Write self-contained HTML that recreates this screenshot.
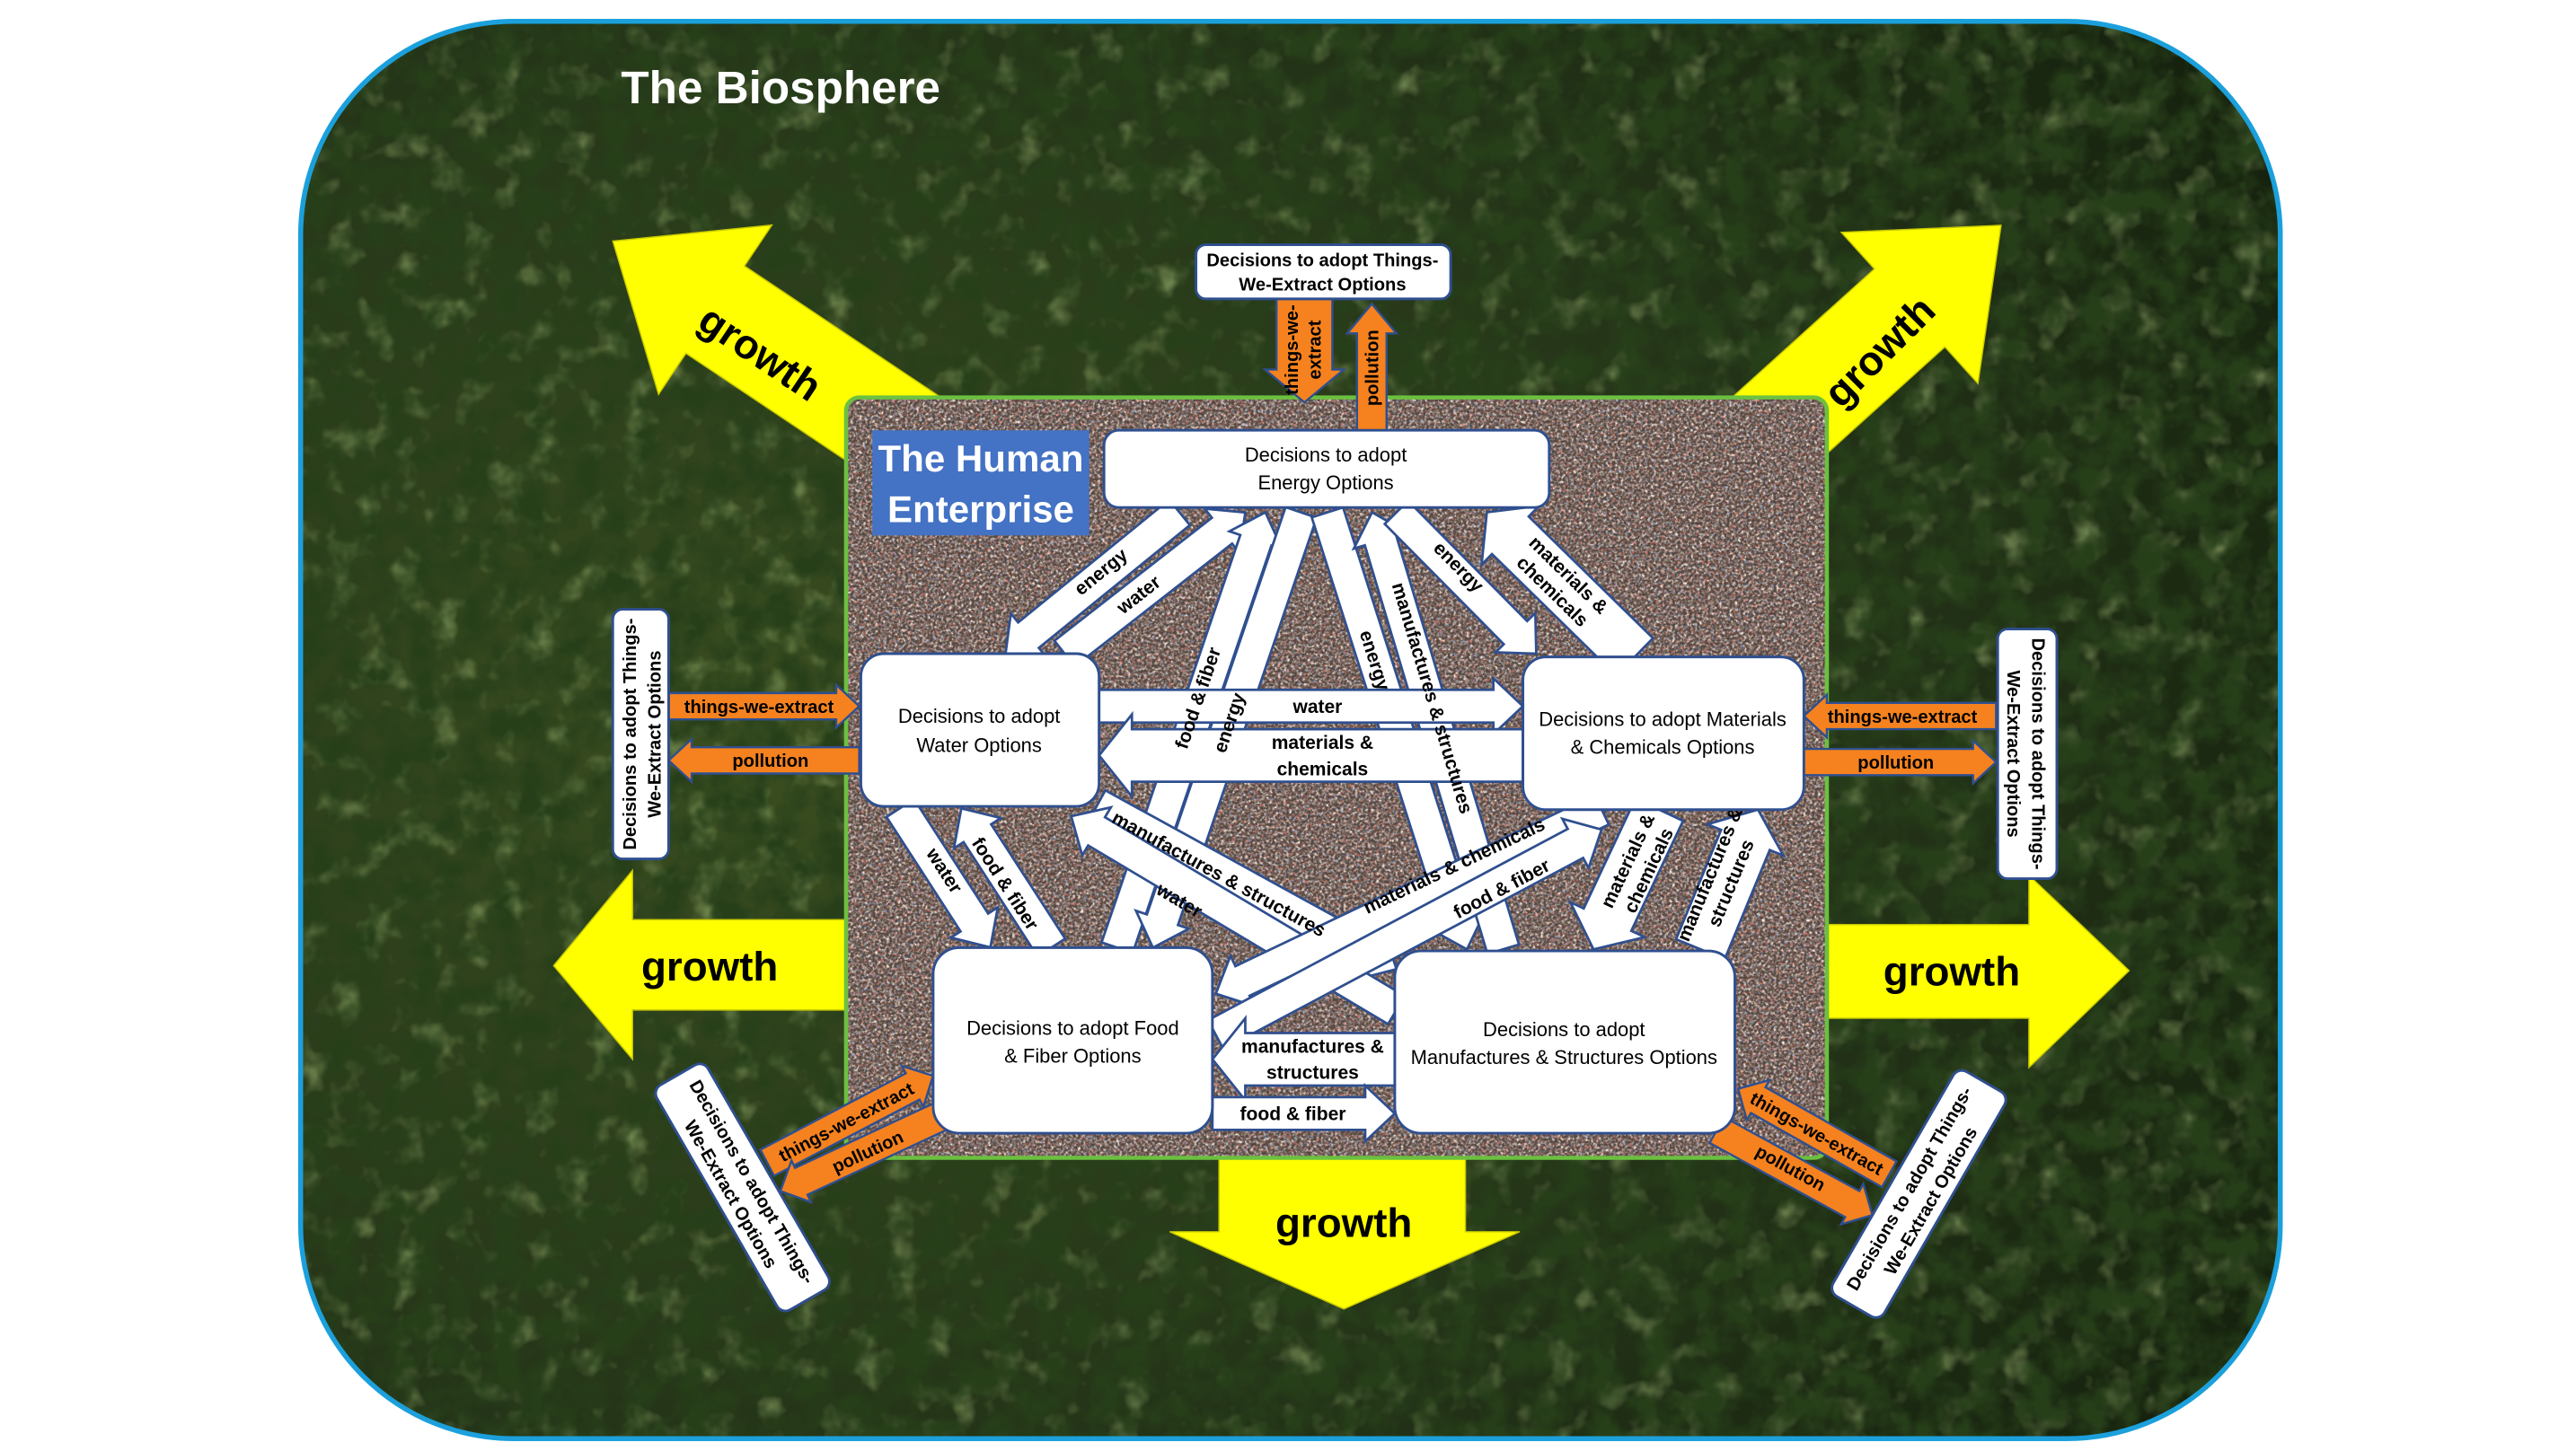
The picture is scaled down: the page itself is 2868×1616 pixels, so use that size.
<!DOCTYPE html>
<html><head><meta charset="utf-8"><style>
html,body{margin:0;padding:0;background:#fff;}
svg{display:block;}
.bx{fill:#fff;stroke:#2f4f8f;stroke-width:1.6;}
.bt{font-family:"Liberation Sans",sans-serif;font-size:12px;fill:#000;text-anchor:middle;}
.al{font-family:"Liberation Sans",sans-serif;font-size:11.5px;font-weight:bold;fill:#000;text-anchor:middle;}
.wa{fill:#fff;stroke:#2f4f8f;stroke-width:1.5;}
.oa{fill:#f5821f;stroke:#2f4f8f;stroke-width:1.3;}
.ya{fill:#ffff00;stroke:#c8c800;stroke-width:0.8;}
.gt{font-family:"Liberation Sans",sans-serif;font-size:25px;font-weight:bold;fill:#000;text-anchor:middle;}
.xt{font-family:"Liberation Sans",sans-serif;font-size:11px;font-weight:bold;fill:#000;text-anchor:middle;}
</style></head><body>
<svg width="2868" height="1616" viewBox="0 0 1568 883.5" preserveAspectRatio="none" xmlns="http://www.w3.org/2000/svg">
<defs>
<filter id="dk" x="0" y="0" width="100%" height="100%"><feTurbulence type="fractalNoise" baseFrequency="0.06" numOctaves="3" seed="4"/><feColorMatrix type="matrix" values="0 0 0 0 0.02  0 0 0 0 0.05  0 0 0 0 0.01  2.6 0 0 0 -0.85"/></filter>
<filter id="lt" x="0" y="0" width="100%" height="100%"><feTurbulence type="fractalNoise" baseFrequency="0.05" numOctaves="3" seed="9"/><feColorMatrix type="matrix" values="0 0 0 0 0.3  0 0 0 0 0.42  0 0 0 0 0.15  1.8 0 0 0 -0.95"/></filter>
<filter id="cd" x="0" y="0" width="100%" height="100%"><feTurbulence type="fractalNoise" baseFrequency="0.6" numOctaves="2" seed="2"/><feColorMatrix type="matrix" values="0 0 0 0 0.08  0 0 0 0 0.06  0 0 0 0 0.05  2.8 0 0 0 -0.95"/></filter>
<filter id="cl" x="0" y="0" width="100%" height="100%"><feTurbulence type="fractalNoise" baseFrequency="0.55" numOctaves="2" seed="7"/><feColorMatrix type="matrix" values="0 0 0 0 0.96  0 0 0 0 0.86  0 0 0 0 0.76  2.8 0 0 0 -1.0"/></filter>
<filter id="cr" x="0" y="0" width="100%" height="100%"><feTurbulence type="fractalNoise" baseFrequency="0.5" numOctaves="1" seed="12"/><feColorMatrix type="matrix" values="0 0 0 0 0.7  0 0 0 0 0.15  0 0 0 0 0.12  3 0 0 0 -1.5"/></filter>
<filter id="cb" x="0" y="0" width="100%" height="100%"><feTurbulence type="fractalNoise" baseFrequency="0.5" numOctaves="1" seed="21"/><feColorMatrix type="matrix" values="0 0 0 0 0.2  0 0 0 0 0.3  0 0 0 0 0.55  3 0 0 0 -1.55"/></filter>
<radialGradient id="fg" cx="0.25" cy="0.5" r="0.85"><stop offset="0" stop-color="#3a4e20"/><stop offset="0.6" stop-color="#243418"/><stop offset="1" stop-color="#16220e"/></radialGradient>
<clipPath id="bio"><rect x="183" y="13" width="1205" height="863" rx="130"/></clipPath>
<clipPath id="crw"><rect x="515" y="242" width="597" height="463" rx="8"/></clipPath>
</defs>

<g clip-path="url(#bio)">
<rect x="183" y="13" width="1205" height="863" fill="url(#fg)"/>
<rect x="183" y="13" width="1205" height="863" filter="url(#lt)"/>
<rect x="183" y="13" width="1205" height="863" filter="url(#dk)"/>
</g>
<rect x="183" y="13" width="1205" height="863" rx="130" fill="none" stroke="#1ca0dc" stroke-width="3"/>

<text x="378" y="63" font-family="Liberation Sans, sans-serif" font-size="28" font-weight="bold" fill="#fff">The Biosphere</text>

<g transform="translate(560,272) rotate(213.8)"><polygon class="ya" points="0,-32 150,-32 150,-62 225,0 150,62 150,32 0,32"/></g>
<g transform="translate(1060,280) rotate(-42.1)"><polygon class="ya" points="0,-32 138,-32 138,-62 213,0 138,62 138,32 0,32"/></g>
<polygon class="ya" points="337,588 385,530 385,560 515,560 515,615 385,615 385,645"/>
<polygon class="ya" points="1113,563 1235,563 1235,533 1296,591 1235,650 1235,620 1113,620"/>
<polygon class="ya" points="742,705 892,705 892,750 925,750 818,797 712,750 742,750"/>
<text class="gt" transform="translate(458,222) rotate(33.8)">growth</text>
<text class="gt" transform="translate(1150,220) rotate(-45)">growth</text>
<text class="gt" x="432" y="597">growth</text>
<text class="gt" x="1188" y="600">growth</text>
<text class="gt" x="818" y="753">growth</text>

<g clip-path="url(#crw)">
<rect x="515" y="242" width="597" height="463" fill="#6e564a"/>
<rect x="515" y="242" width="597" height="463" filter="url(#cl)"/>
<rect x="515" y="242" width="597" height="463" filter="url(#cr)"/>
<rect x="515" y="242" width="597" height="463" filter="url(#cb)"/>
<rect x="515" y="242" width="597" height="463" filter="url(#cd)"/>
</g>
<rect x="515" y="242" width="597" height="463" rx="8" fill="none" stroke="#6cc040" stroke-width="2.5"/>

<rect x="531" y="262" width="132" height="64" fill="#4472c4"/>
<text x="597" y="287" font-family="Liberation Sans, sans-serif" font-size="23" font-weight="bold" fill="#fff" text-anchor="middle">The Human</text>
<text x="597" y="318" font-family="Liberation Sans, sans-serif" font-size="23" font-weight="bold" fill="#fff" text-anchor="middle">Enterprise</text>

<g transform="translate(718,312) rotate(140.9)"><polygon class="wa" points="0,-10 118.5,-10 118.5,-17 136.5,0 118.5,17 118.5,10 0,10"/></g>
<g transform="translate(648,398) rotate(-38)"><polygon class="wa" points="0,-10 121.6,-10 121.6,-17 139.6,0 121.6,17 121.6,10 0,10"/></g>
<g transform="translate(680,577) rotate(-71.2)"><polygon class="wa" points="0,-10 262,-10 262,-17 280,0 262,17 262,10 0,10"/></g>
<g transform="translate(792,312) rotate(108.8)"><polygon class="wa" points="0,-10 262,-10 262,-17 280,0 262,17 262,10 0,10"/></g>
<g transform="translate(808,312) rotate(72.3)"><polygon class="wa" points="0,-10 261.3,-10 261.3,-17 279.3,0 261.3,17 261.3,10 0,10"/></g>
<g transform="translate(915,578) rotate(-106.7)"><polygon class="wa" points="0,-10 259.8,-10 259.8,-17 277.8,0 259.8,17 259.8,10 0,10"/></g>
<g transform="translate(850,312) rotate(45.3)"><polygon class="wa" points="0,-10 103,-10 103,-17 121,0 103,17 103,10 0,10"/></g>
<g transform="translate(995,400) rotate(-135.6)"><polygon class="wa" points="0,-16 105.9,-16 105.9,-25 125.9,0 105.9,25 105.9,16 0,16"/></g>
<g transform="translate(669,430)"><polygon class="wa" points="0,-10 240,-10 240,-17 258,0 240,17 240,10 0,10"/></g>
<g transform="translate(927,460) rotate(180)"><polygon class="wa" points="0,-16 238,-16 238,-25 258,0 238,25 238,16 0,16"/></g>
<g transform="translate(548,492) rotate(57.1)"><polygon class="wa" points="0,-10 83,-10 83,-17 101,0 83,17 83,10 0,10"/></g>
<g transform="translate(640,577) rotate(-122.9)"><polygon class="wa" points="0,-10 83,-10 83,-17 101,0 83,17 83,10 0,10"/></g>
<g transform="translate(668,490) rotate(28.8)"><polygon class="wa" points="0,-10 189.7,-10 189.7,-17 207.7,0 189.7,17 189.7,10 0,10"/></g>
<g transform="translate(850,615) rotate(-149.2)"><polygon class="wa" points="0,-10 212.5,-10 212.5,-17 230.5,0 212.5,17 212.5,10 0,10"/></g>
<g transform="translate(975,493) rotate(154.5)"><polygon class="wa" points="0,-10 242.3,-10 242.3,-17 260.3,0 242.3,17 242.3,10 0,10"/></g>
<g transform="translate(740,630) rotate(-28)"><polygon class="wa" points="0,-10 248,-10 248,-17 266,0 248,17 248,10 0,10"/></g>
<g transform="translate(1010,493) rotate(115.2)"><polygon class="wa" points="0,-16 74,-16 74,-25 94,0 74,25 74,16 0,16"/></g>
<g transform="translate(1035,578) rotate(-67.6)"><polygon class="wa" points="0,-16 72,-16 72,-25 92,0 72,25 72,16 0,16"/></g>
<g transform="translate(849,645) rotate(180)"><polygon class="wa" points="0,-16 91,-16 91,-25 111,0 91,25 91,16 0,16"/></g>
<g transform="translate(738,678)"><polygon class="wa" points="0,-10 93,-10 93,-17 111,0 93,17 93,10 0,10"/></g>

<text class="al" transform="translate(670,348) rotate(-39.1)" y="4">energy</text>
<text class="al" transform="translate(693,362) rotate(-38)" y="4">water</text>
<text class="al" transform="translate(729,425) rotate(-71.2)" y="4">food &amp; fiber</text>
<text class="al" transform="translate(748,440) rotate(-71.2)" y="4">energy</text>
<text class="al" transform="translate(837,402) rotate(72.3)" y="4">energy</text>
<text class="al" transform="translate(872,425) rotate(73.3)" y="4">manufactures &amp; structures</text>
<text class="al" transform="translate(888,345) rotate(45.3)" y="4">energy</text>
<text class="al" transform="translate(950,355) rotate(44.4)" y="-3">materials &amp;</text>
<text class="al" transform="translate(950,355) rotate(44.4)" y="11">chemicals</text>
<text class="al" x="802" y="434">water</text>
<text class="al" x="805" y="456">materials &amp;</text>
<text class="al" x="805" y="472">chemicals</text>
<text class="al" transform="translate(575,530) rotate(57.1)" y="4">water</text>
<text class="al" transform="translate(612,538) rotate(57.1)" y="4">food &amp; fiber</text>
<text class="al" transform="translate(742,532) rotate(28.8)" y="4">manufactures &amp; structures</text>
<text class="al" transform="translate(718,548) rotate(30.8)" y="4">water</text>
<text class="al" transform="translate(885,527) rotate(-25.5)" y="4">materials &amp; chemicals</text>
<text class="al" transform="translate(914,541) rotate(-28)" y="4">food &amp; fiber</text>
<text class="al" transform="translate(997,527) rotate(-64.8)" y="-3">materials &amp;</text>
<text class="al" transform="translate(997,527) rotate(-64.8)" y="11">chemicals</text>
<text class="al" transform="translate(1047,535) rotate(-67.6)" y="-3">manufactures &amp;</text>
<text class="al" transform="translate(1047,535) rotate(-67.6)" y="11">structures</text>
<text class="al" x="799" y="641">manufactures &amp;</text>
<text class="al" x="799" y="657">structures</text>
<text class="al" x="787" y="682">food &amp; fiber</text>

<g transform="translate(794,182) rotate(90)"><polygon class="oa" points="0,-17 43,-17 43,-24 63,0 43,24 43,17 0,17"/></g>
<g transform="translate(835,262) rotate(-90)"><polygon class="oa" points="0,-9 59,-9 59,-15 77,0 59,15 59,9 0,9"/></g>
<g transform="translate(407,430)"><polygon class="oa" points="0,-8 102,-8 102,-13 116,0 102,13 102,8 0,8"/></g>
<g transform="translate(523,463) rotate(180)"><polygon class="oa" points="0,-8 102,-8 102,-13 116,0 102,13 102,8 0,8"/></g>
<g transform="translate(1215,436) rotate(180)"><polygon class="oa" points="0,-8 103,-8 103,-13 117,0 103,13 103,8 0,8"/></g>
<g transform="translate(1098,464)"><polygon class="oa" points="0,-8 103,-8 103,-13 117,0 103,13 103,8 0,8"/></g>
<g transform="translate(467,708) rotate(-27.7)"><polygon class="oa" points="0,-9 100,-9 100,-14 114,0 100,14 100,9 0,9"/></g>
<g transform="translate(572,680) rotate(155)"><polygon class="oa" points="0,-9 93,-9 93,-14 107,0 93,14 93,9 0,9"/></g>
<g transform="translate(1150,715) rotate(-150.5)"><polygon class="oa" points="0,-9 91.7,-9 91.7,-14 105.7,0 91.7,14 91.7,9 0,9"/></g>
<g transform="translate(1045,688) rotate(28.7)"><polygon class="oa" points="0,-9 94,-9 94,-14 108,0 94,14 94,9 0,9"/></g>

<text class="xt" transform="translate(786,213) rotate(-90)" y="4">things-we-</text>
<text class="xt" transform="translate(800,213) rotate(-90)" y="4">extract</text>
<text class="xt" transform="translate(835,224) rotate(-90)" y="4">pollution</text>
<text class="xt" x="462" y="434">things-we-extract</text>
<text class="xt" x="469" y="467">pollution</text>
<text class="xt" x="1158" y="440">things-we-extract</text>
<text class="xt" x="1154" y="468">pollution</text>
<text class="xt" transform="translate(515,683) rotate(-27.7)" y="4">things-we-extract</text>
<text class="xt" transform="translate(528,701) rotate(-25)" y="4">pollution</text>
<text class="xt" transform="translate(1106,690) rotate(29.5)" y="4">things-we-extract</text>
<text class="xt" transform="translate(1090,711) rotate(28.7)" y="4">pollution</text>

<rect class="bx" x="672" y="262" width="271" height="47" rx="9"/>
<text class="bt" x="807" y="281">Decisions to adopt</text>
<text class="bt" x="807" y="298">Energy Options</text>

<rect class="bx" x="524" y="398" width="145" height="93" rx="14"/>
<text class="bt" x="596" y="440">Decisions to adopt</text>
<text class="bt" x="596" y="458">Water Options</text>

<rect class="bx" x="927" y="400" width="171" height="93" rx="14"/>
<text class="bt" x="1012" y="442" font-size="11.5">Decisions to adopt Materials</text>
<text class="bt" x="1012" y="459" font-size="11.5">&amp; Chemicals Options</text>

<rect class="bx" x="568" y="577" width="170" height="113" rx="16"/>
<text class="bt" x="653" y="630">Decisions to adopt Food</text>
<text class="bt" x="653" y="647">&amp; Fiber Options</text>

<rect class="bx" x="849" y="579" width="207" height="111" rx="16"/>
<text class="bt" x="952" y="631">Decisions to adopt</text>
<text class="bt" x="952" y="648" font-size="11.2">Manufactures &amp; Structures Options</text>

<rect class="bx" x="728" y="149" width="155" height="33" rx="6"/>
<text class="xt" x="805" y="162">Decisions to adopt Things-</text>
<text class="xt" x="805" y="177">We-Extract Options</text>

<g transform="translate(390,447) rotate(-90)">
<rect class="bx" x="-76" y="-17" width="152" height="34" rx="6"/>
<text class="xt" y="-3">Decisions to adopt Things-</text>
<text class="xt" y="12">We-Extract Options</text>
</g>
<g transform="translate(1234,459) rotate(90)">
<rect class="bx" x="-76" y="-18" width="152" height="36" rx="6"/>
<text class="xt" y="-3">Decisions to adopt Things-</text>
<text class="xt" y="12">We-Extract Options</text>
</g>
<g transform="translate(452,723) rotate(60)">
<rect class="bx" x="-79" y="-18" width="158" height="36" rx="6"/>
<text class="xt" y="-3">Decisions to adopt Things-</text>
<text class="xt" y="12">We-Extract Options</text>
</g>
<g transform="translate(1168,727) rotate(-60)">
<rect class="bx" x="-79" y="-18" width="158" height="36" rx="6"/>
<text class="xt" y="-3">Decisions to adopt Things-</text>
<text class="xt" y="12">We-Extract Options</text>
</g>
</svg>
</body></html>
